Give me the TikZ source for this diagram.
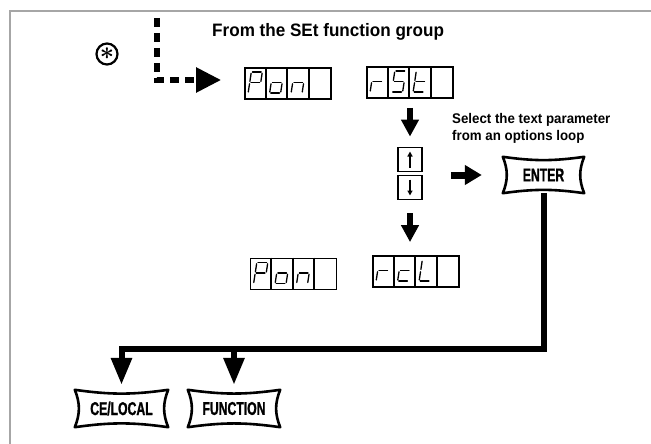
\documentclass[tikz,border=0pt]{standalone}
\usepackage{amsmath}
\usepackage{fontspec}
\setmainfont{Liberation Sans}
\newfontfamily\keyfont[FakeStretch=0.66,FakeBold=1.2]{Liberation Sans Bold}
\newfontfamily\headfont[FakeStretch=0.95]{Liberation Sans}
\usetikzlibrary{arrows.meta,calc}

% seven segment pieces, one cell is 21.5 x 31
\def\sga{\draw[seg] (7.2,5) -- (18.2,5);}
\def\sgb{\draw[seg] (18.2,5) -- (16.6,15.5);}
\def\sgc{\draw[seg] (16.6,15.5) -- (15,26);}
\def\sgd{\draw[seg] (4,26) -- (15,26);}
\def\sge{\draw[seg] (5.6,15.5) -- (4,26);}
\def\sgf{\draw[seg] (7.2,5) -- (5.6,15.5);}
\def\sgg{\draw[seg] (5.6,15.5) -- (16.6,15.5);}

\newcommand\segcell[3]{%
  \begin{scope}[shift={($(#1.north west)+(#2*21.5,0)$)}]
    \foreach \s in {#3} {\csname sg\s\endcsname}
  \end{scope}}
\newcommand\dispcells[1]{%
  \foreach \i in {1,2,3}
    \draw[cellline] ($(#1.north west)+(\i*21.5,0)$) -- ($(#1.south west)+(\i*21.5,0)$);}
\newcommand\keyframe[1]{%
  \draw[keyline] (#1.north west) to[bend right=8] (#1.north east)
    to[bend right=22] (#1.south east) to[bend right=8] (#1.south west)
    to[bend right=22] (#1.north west) -- cycle;}

\tikzset{
  disp/.style={draw, line width=1.8pt, minimum width=86pt, minimum height=31pt, inner sep=0pt},
  cellline/.style={line width=1.8pt},
  seg/.style={line width=1.3pt, shorten <=1.2pt, shorten >=1.2pt, line cap=round},
  keybtn/.style={inner sep=0pt, font=\keyfont\fontsize{18.5}{18.5}\selectfont},
  keyline/.style={line width=2.6pt, line join=round},
  arrbtn/.style={draw, line width=1.8pt, minimum size=24pt, inner sep=0pt},
  smallarr/.style={line width=1.6pt, -{Triangle[length=5pt,width=5pt]}},
  stepdown/.style={line width=6pt, -{Triangle[length=17pt,width=17pt]}},
  stepright/.style={line width=7pt, -{Triangle[length=17pt,width=19pt]}},
  dashflow/.style={line width=5.5pt, dash pattern=on 9pt off 6pt, -{Triangle[length=25pt,width=24pt]}},
  flow/.style={line width=6pt, -{Triangle[length=27pt,width=20pt]}},
  frameline/.style={line width=2pt, gray!70}
}

\begin{document}
\begin{tikzpicture}[x=1pt,y=-1pt]
  \useasboundingbox (0,0) rectangle (651,444);
  \draw[frameline] (651,11) -- (10,11) -- (10,444);

  % heading
  \node[draw, circle, line width=2.2pt, minimum size=21pt, inner sep=0pt] (star) at (107,54) {\fontsize{24}{24}\selectfont$\boldsymbol{\ast}$};
  \node[anchor=base west, inner sep=0pt, font=\headfont\bfseries\fontsize{18}{18}\selectfont] (title) at (212,37) {From the SEt function group};
  \coordinate (src) at (157,18);

  % displays
  \node[disp] (ponA) at (288,83.5) {};
  \node[disp] (rst) at (410,82.5) {};
  \node[disp] (ponB) at (293.5,274) {};
  \node[disp] (rcl) at (416,271.5) {};
  \dispcells{ponA}
  \dispcells{rst}
  \dispcells{ponB}
  \dispcells{rcl}
  \segcell{ponA}{0}{a,b,f,g,e}
  \segcell{ponA}{1}{g,c,d,e}
  \segcell{ponA}{2}{g,c,e}
  \segcell{rst}{0}{g,e}
  \segcell{rst}{1}{a,f,g,c,d}
  \segcell{rst}{2}{f,g,e,d}
  \segcell{ponB}{0}{a,b,f,g,e}
  \segcell{ponB}{1}{g,c,d,e}
  \segcell{ponB}{2}{g,c,e}
  \segcell{rcl}{0}{g,e}
  \segcell{rcl}{1}{g,e,d}
  \segcell{rcl}{2}{f,e,d}

  % up/down buttons
  \node[arrbtn] (upbtn) at (410,159.5) {};
  \node[arrbtn] (dnbtn) at (410,187.5) {};
  \draw[smallarr] ([yshift=-8pt]upbtn.center) -- ([yshift=8pt]upbtn.center);
  \draw[smallarr] ([yshift=8pt]dnbtn.center) -- ([yshift=-8pt]dnbtn.center);

  \node[anchor=north west, align=left, inner sep=0pt, font=\headfont\bfseries\fontsize{14}{17}\selectfont] (seltxt) at (452,112.7) {Select the text parameter\\from an options loop};

  % keys
  \node[keybtn, minimum width=81pt, minimum height=36pt] (enter) at (543.5,175) {ENTER};
  \node[keybtn, minimum width=93pt, minimum height=37pt] (ce) at (121.5,408.5) {CE/LOCAL};
  \node[keybtn, minimum width=92pt, minimum height=37pt] (fn) at (234,408.5) {FUNCTION};
  \keyframe{enter}
  \keyframe{ce}
  \keyframe{fn}

  % arrows
  \draw[dashflow, shorten >=23pt] (src) |- ([yshift=3.5pt]ponA.west);
  \draw[stepdown, shorten <=9pt, shorten >=10pt] (rst.south) -- (upbtn.north);
  \draw[stepdown, shorten <=13pt, shorten >=13pt] (dnbtn.south) -- (dnbtn.south |- rcl.north);
  \draw[stepright, shorten <=28pt, shorten >=21pt] (upbtn.east |- enter.west) -- (enter.west);
  \coordinate (bus) at (0,349);
  \draw[flow, shorten >=5pt] (enter.south) |- (ce.north |- bus) -- (ce.north);
  \draw[flow, shorten >=5pt] (fn.north |- bus) -- (fn.north);
\end{tikzpicture}
\end{document}
